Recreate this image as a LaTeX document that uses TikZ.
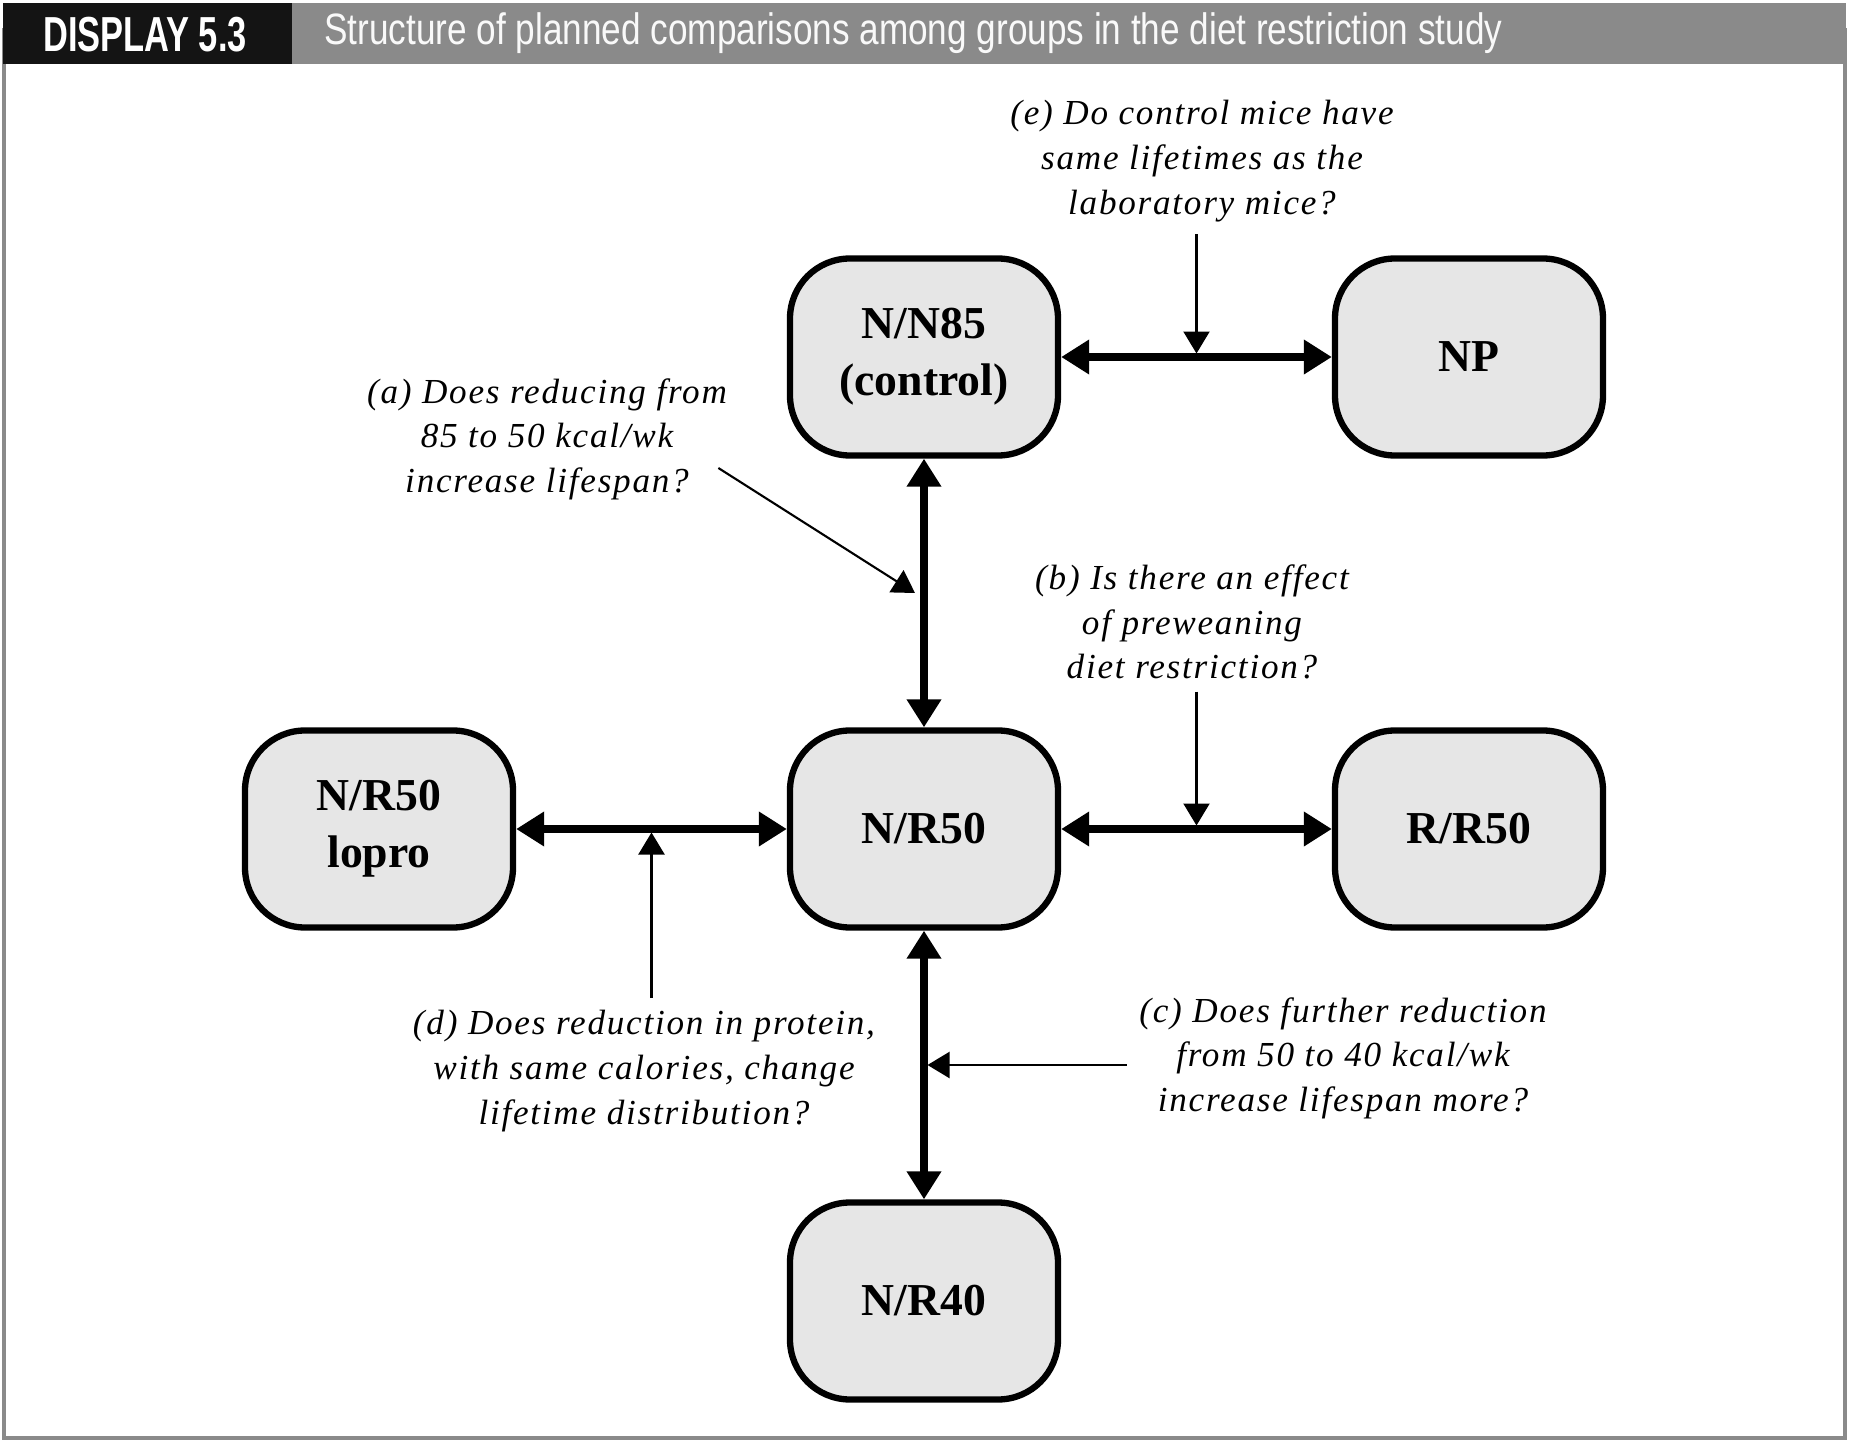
\documentclass[tikz,border=0pt]{standalone}
\usepackage{fontspec}
\usepackage{tikz}
\usetikzlibrary{arrows.meta, positioning, calc}
\setmainfont{Liberation Serif}
\newfontfamily\headfont[FakeStretch=0.8]{Liberation Sans}
\newfontfamily\dispfont[FakeStretch=0.7]{Liberation Sans}
\newfontfamily\qfont[LetterSpace=5]{Liberation Serif}
\definecolor{bargray}{HTML}{8A8A8A}
\definecolor{boxfill}{HTML}{E6E6E6}

\begin{document}
\begin{tikzpicture}[on grid, node distance=4.72cm and 5.45cm,
    grp/.style={draw, line width=1.8pt, fill=boxfill, rounded corners=0.6cm,
      minimum width=2.68cm, minimum height=1.97cm, align=center,
      font=\bfseries\fontsize{13pt}{16.2pt}\selectfont},
    quest/.style={align=center, font=\qfont\itshape\fontsize{10pt}{12.7pt}\selectfont},
    link/.style={{Triangle[length=0.28cm,width=0.33cm]}-{Triangle[length=0.28cm,width=0.33cm]}, line width=2pt},
    hint/.style={-{Triangle[length=0.22cm,width=0.26cm]}, line width=0.6pt}]
  \useasboundingbox (0,0) rectangle (18.52,-14.46);
  % frame and header
  \draw[bargray, line width=0.9pt] (0.04,-0.3) rectangle (18.45,-14.38);
  \fill[bargray] (2.92,-0.03) rectangle (18.46,-0.64);
  \fill[black!92] (0.03,-0.03) rectangle (2.92,-0.64);
  \node[white, font=\dispfont\bfseries\fontsize{14pt}{16pt}\selectfont] (disp) at (1.45,-0.35) {DISPLAY 5.3};
  \node[white!95!gray, anchor=west, font=\headfont\fontsize{12.5pt}{14pt}\selectfont] (title) at (3.12,-0.33)
    {Structure of planned comparisons among groups in the diet restriction study};

  % groups
  \node[grp] (n_n85) at (9.24,-3.57) {N/N85\\(control)};
  \node[grp] (np)    [right=of n_n85] {NP};
  \node[grp] (n_r50) [below=of n_n85] {N/R50};
  \node[grp] (lopro) [left=of n_r50]  {N/R50\\lopro};
  \node[grp] (r_r50) [right=of n_r50] {R/R50};
  \node[grp] (n_r40) [below=of n_r50] {N/R40};

  \path[link]
    (n_n85) edge (np)
            edge (n_r50)
    (n_r50) edge (lopro)
            edge (r_r50)
            edge (n_r40);

  % questions
  \node[quest] (q_e) [above right=1.96cm and 2.78cm of n_n85]
    {(e) Do control mice have\\same lifetimes as the\\laboratory mice?};
  \node[quest] (q_a) [below left=0.82cm and 3.77cm of n_n85]
    {(a) Does reducing from\\85 to 50 kcal/wk\\increase lifespan?};
  \node[quest] (q_b) [above right=2.07cm and 2.68cm of n_r50]
    {(b) Is there an effect\\of preweaning\\diet restriction?};
  \node[quest] (q_c) [below right=2.29cm and 4.19cm of n_r50]
    {(c) Does further reduction\\from 50 to 40 kcal/wk\\increase lifespan more?};
  \node[quest] (q_d) [below left=2.42cm and 2.80cm of n_r50]
    {(d) Does reduction in protein,\\with same calories, change\\lifetime distribution?};

  \coordinate (p_e) at ($(n_n85.east)!0.5!(np.west)+(0,0.035)$);
  \coordinate (p_a) at ($(n_n85.south)!0.5!(n_r50.north)+(-0.09,0)$);
  \coordinate (p_b) at ($(n_r50.east)!0.5!(r_r50.west)+(0,0.035)$);
  \coordinate (p_c) at ($(n_r50.south)!0.5!(n_r40.north)+(0.035,0)$);
  \coordinate (p_d) at ($(lopro.east)!0.5!(n_r50.west)+(0,-0.035)$);

  \path[hint]
    (q_e.south -| p_e) edge (p_e)
    ([shift={(-0.21,-0.29)}]q_a.east) edge (p_a)
    (q_b.south -| p_b) edge (p_b)
    (q_c.west |- p_c) edge (p_c)
    (q_d.north -| p_d) edge (p_d);
\end{tikzpicture}
\end{document}
